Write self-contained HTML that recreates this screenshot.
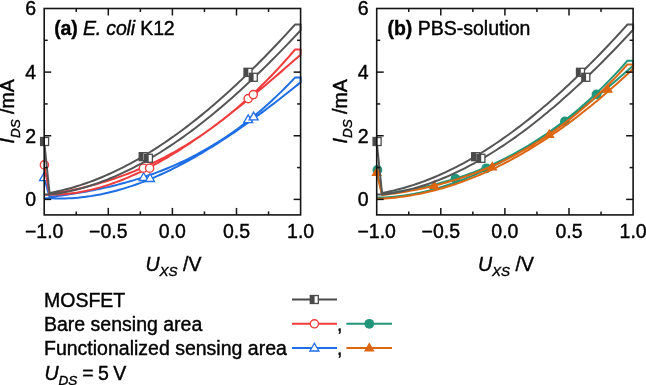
<!DOCTYPE html>
<html><head><meta charset="utf-8"><style>
html,body{margin:0;padding:0;background:#fff;overflow:hidden;}
svg{display:block;will-change:transform;}
.t{font-family:"Liberation Sans", sans-serif;font-size:19.5px;fill:#000;stroke:#000;stroke-width:0.4px;}
</style></head><body>
<svg width="646" height="385" viewBox="0 0 646 385">
<path d="M44.20,177.50 L49.50,197.05 L52.61,196.66 L55.72,196.26 L58.82,195.84 L61.93,195.41 L65.04,194.97 L68.15,194.51 L71.25,194.04 L74.36,193.55 L77.47,193.04 L80.58,192.52 L83.68,191.98 L86.79,191.42 L89.90,190.84 L93.01,190.24 L96.11,189.62 L99.22,188.98 L102.33,188.31 L105.44,187.63 L108.54,186.92 L111.65,186.19 L114.76,185.43 L117.87,184.65 L120.97,183.84 L124.08,183.01 L127.19,182.15 L130.30,181.26 L133.41,180.35 L136.51,179.40 L139.62,178.43 L142.73,177.42 L145.84,176.39 L148.94,175.32 L152.05,174.22 L155.16,173.09 L158.27,171.92 L161.37,170.72 L164.48,169.49 L167.59,168.21 L170.70,166.91 L173.80,165.57 L176.91,164.19 L180.02,162.77 L183.13,161.31 L186.23,159.81 L189.34,158.28 L192.45,156.70 L195.56,155.08 L198.66,153.42 L201.77,151.72 L204.88,149.97 L207.99,148.18 L211.09,146.35 L214.20,144.47 L217.31,142.54 L220.42,140.57 L223.53,138.55 L226.63,136.48 L229.74,134.37 L232.85,132.20 L235.96,129.99 L239.06,127.73 L242.17,125.41 L245.28,123.04 L248.39,120.62 L251.49,118.15 L254.60,115.62 L257.71,113.04 L260.82,110.41 L263.92,107.72 L267.03,104.97 L270.14,102.16 L273.25,99.30 L276.35,96.38 L279.46,93.40 L282.57,90.36 L285.68,87.26 L288.78,84.11 L291.89,80.88 L295.00,77.60 L300.60,77.60 L300.60,82.30 L297.42,84.87 L294.24,87.43 L291.06,89.97 L287.89,92.49 L284.71,95.01 L281.53,97.50 L278.35,99.98 L275.17,102.44 L271.99,104.88 L268.82,107.31 L265.64,109.71 L262.46,112.09 L259.28,114.46 L256.10,116.80 L252.92,119.12 L249.74,121.42 L246.57,123.70 L243.39,125.95 L240.21,128.18 L237.03,130.38 L233.85,132.56 L230.67,134.71 L227.49,136.84 L224.32,138.94 L221.14,141.01 L217.96,143.06 L214.78,145.07 L211.60,147.06 L208.42,149.02 L205.25,150.95 L202.07,152.85 L198.89,154.71 L195.71,156.55 L192.53,158.35 L189.35,160.12 L186.17,161.86 L183.00,163.56 L179.82,165.23 L176.64,166.87 L173.46,168.47 L170.28,170.03 L167.10,171.56 L163.93,173.05 L160.75,174.51 L157.57,175.93 L154.39,177.31 L151.21,178.65 L148.03,179.95 L144.85,181.21 L141.68,182.43 L138.50,183.61 L135.32,184.75 L132.14,185.85 L128.96,186.90 L125.78,187.92 L122.61,188.89 L119.43,189.82 L116.25,190.70 L113.07,191.54 L109.89,192.33 L106.71,193.08 L103.53,193.78 L100.36,194.44 L97.18,195.04 L94.00,195.60 L90.82,196.12 L87.64,196.58 L84.46,197.00 L81.28,197.36 L78.11,197.68 L74.93,197.95 L71.75,198.16 L68.57,198.33 L65.39,198.44 L62.21,198.50 L59.04,198.51 L55.86,198.46 L52.68,198.36 L49.50,198.21 L44.20,198.21" fill="none" stroke="#1e6ee6" stroke-width="2.0" stroke-linejoin="round"/><polygon points="44.00,172.82 39.50,180.62 48.50,180.62" fill="#fff" stroke="#1e6ee6" stroke-width="1.3"/><polygon points="143.60,172.72 139.10,180.52 148.10,180.52" fill="#fff" stroke="#1e6ee6" stroke-width="1.3"/><polygon points="150.00,173.72 145.50,181.52 154.50,181.52" fill="#fff" stroke="#1e6ee6" stroke-width="1.3"/><polygon points="248.20,114.82 243.70,122.62 252.70,122.62" fill="#fff" stroke="#1e6ee6" stroke-width="1.3"/><polygon points="253.60,112.12 249.10,119.92 258.10,119.92" fill="#fff" stroke="#1e6ee6" stroke-width="1.3"/>
<path d="M44.20,164.90 L49.50,194.14 L52.61,193.65 L55.72,193.14 L58.82,192.60 L61.93,192.04 L65.04,191.46 L68.15,190.85 L71.25,190.22 L74.36,189.56 L77.47,188.87 L80.58,188.16 L83.68,187.42 L86.79,186.65 L89.90,185.86 L93.01,185.03 L96.11,184.18 L99.22,183.30 L102.33,182.39 L105.44,181.45 L108.54,180.48 L111.65,179.48 L114.76,178.44 L117.87,177.38 L120.97,176.28 L124.08,175.15 L127.19,173.99 L130.30,172.79 L133.41,171.56 L136.51,170.30 L139.62,169.00 L142.73,167.67 L145.84,166.29 L148.94,164.89 L152.05,163.44 L155.16,161.96 L158.27,160.45 L161.37,158.89 L164.48,157.30 L167.59,155.66 L170.70,153.99 L173.80,152.28 L176.91,150.52 L180.02,148.73 L183.13,146.90 L186.23,145.02 L189.34,143.10 L192.45,141.14 L195.56,139.14 L198.66,137.09 L201.77,135.00 L204.88,132.87 L207.99,130.69 L211.09,128.46 L214.20,126.19 L217.31,123.87 L220.42,121.51 L223.53,119.10 L226.63,116.64 L229.74,114.14 L232.85,111.58 L235.96,108.98 L239.06,106.33 L242.17,103.63 L245.28,100.87 L248.39,98.07 L251.49,95.22 L254.60,92.31 L257.71,89.35 L260.82,86.34 L263.92,83.27 L267.03,80.16 L270.14,76.98 L273.25,73.76 L276.35,70.48 L279.46,67.14 L282.57,63.74 L285.68,60.29 L288.78,56.79 L291.89,53.22 L295.00,49.60 L300.60,49.60 L300.60,54.70 L297.42,57.50 L294.24,60.29 L291.06,63.07 L287.89,65.85 L284.71,68.61 L281.53,71.37 L278.35,74.12 L275.17,76.85 L271.99,79.58 L268.82,82.29 L265.64,84.98 L262.46,87.67 L259.28,90.33 L256.10,92.99 L252.92,95.62 L249.74,98.24 L246.57,100.83 L243.39,103.41 L240.21,105.97 L237.03,108.51 L233.85,111.03 L230.67,113.52 L227.49,115.99 L224.32,118.44 L221.14,120.87 L217.96,123.26 L214.78,125.64 L211.60,127.98 L208.42,130.30 L205.25,132.59 L202.07,134.85 L198.89,137.08 L195.71,139.28 L192.53,141.44 L189.35,143.58 L186.17,145.68 L183.00,147.75 L179.82,149.79 L176.64,151.79 L173.46,153.75 L170.28,155.68 L167.10,157.57 L163.93,159.42 L160.75,161.24 L157.57,163.01 L154.39,164.74 L151.21,166.44 L148.03,168.09 L144.85,169.70 L141.68,171.26 L138.50,172.78 L135.32,174.26 L132.14,175.69 L128.96,177.08 L125.78,178.42 L122.61,179.71 L119.43,180.95 L116.25,182.15 L113.07,183.29 L109.89,184.39 L106.71,185.43 L103.53,186.42 L100.36,187.36 L97.18,188.24 L94.00,189.08 L90.82,189.85 L87.64,190.57 L84.46,191.24 L81.28,191.85 L78.11,192.40 L74.93,192.89 L71.75,193.32 L68.57,193.69 L65.39,194.01 L62.21,194.26 L59.04,194.45 L55.86,194.57 L52.68,194.64 L49.50,194.63 L44.20,194.63" fill="none" stroke="#f03c3c" stroke-width="2.0" stroke-linejoin="round"/><circle cx="44.40" cy="164.90" r="4.1" fill="#fff" stroke="#f03c3c" stroke-width="1.4"/><circle cx="143.40" cy="168.20" r="4.1" fill="#fff" stroke="#f03c3c" stroke-width="1.4"/><circle cx="149.60" cy="168.20" r="4.1" fill="#fff" stroke="#f03c3c" stroke-width="1.4"/><circle cx="248.20" cy="98.60" r="4.1" fill="#fff" stroke="#f03c3c" stroke-width="1.4"/><circle cx="253.30" cy="94.60" r="4.1" fill="#fff" stroke="#f03c3c" stroke-width="1.4"/>
<path d="M44.20,141.50 L49.50,192.95 L52.61,192.37 L55.72,191.74 L58.82,191.07 L61.93,190.35 L65.04,189.59 L68.15,188.78 L71.25,187.93 L74.36,187.03 L77.47,186.08 L80.58,185.10 L83.68,184.07 L86.79,182.99 L89.90,181.88 L93.01,180.72 L96.11,179.52 L99.22,178.27 L102.33,176.98 L105.44,175.65 L108.54,174.28 L111.65,172.87 L114.76,171.41 L117.87,169.92 L120.97,168.38 L124.08,166.80 L127.19,165.19 L130.30,163.53 L133.41,161.83 L136.51,160.09 L139.62,158.32 L142.73,156.50 L145.84,154.64 L148.94,152.75 L152.05,150.82 L155.16,148.85 L158.27,146.84 L161.37,144.79 L164.48,142.71 L167.59,140.59 L170.70,138.43 L173.80,136.23 L176.91,134.00 L180.02,131.73 L183.13,129.43 L186.23,127.09 L189.34,124.71 L192.45,122.30 L195.56,119.85 L198.66,117.37 L201.77,114.86 L204.88,112.31 L207.99,109.72 L211.09,107.10 L214.20,104.45 L217.31,101.77 L220.42,99.05 L223.53,96.30 L226.63,93.52 L229.74,90.70 L232.85,87.85 L235.96,84.97 L239.06,82.06 L242.17,79.12 L245.28,76.15 L248.39,73.14 L251.49,70.11 L254.60,67.05 L257.71,63.95 L260.82,60.83 L263.92,57.68 L267.03,54.49 L270.14,51.28 L273.25,48.04 L276.35,44.78 L279.46,41.48 L282.57,38.16 L285.68,34.81 L288.78,31.43 L291.89,28.03 L295.00,24.60 L300.60,24.60 L300.60,30.40 L297.42,33.79 L294.24,37.16 L291.06,40.50 L287.89,43.82 L284.71,47.11 L281.53,50.38 L278.35,53.63 L275.17,56.85 L271.99,60.04 L268.82,63.20 L265.64,66.34 L262.46,69.45 L259.28,72.54 L256.10,75.59 L252.92,78.62 L249.74,81.61 L246.57,84.58 L243.39,87.52 L240.21,90.43 L237.03,93.30 L233.85,96.15 L230.67,98.96 L227.49,101.74 L224.32,104.49 L221.14,107.20 L217.96,109.88 L214.78,112.53 L211.60,115.15 L208.42,117.73 L205.25,120.27 L202.07,122.78 L198.89,125.26 L195.71,127.69 L192.53,130.10 L189.35,132.46 L186.17,134.79 L183.00,137.08 L179.82,139.33 L176.64,141.55 L173.46,143.72 L170.28,145.86 L167.10,147.95 L163.93,150.01 L160.75,152.03 L157.57,154.00 L154.39,155.94 L151.21,157.83 L148.03,159.69 L144.85,161.50 L141.68,163.27 L138.50,164.99 L135.32,166.67 L132.14,168.31 L128.96,169.91 L125.78,171.46 L122.61,172.97 L119.43,174.43 L116.25,175.85 L113.07,177.22 L109.89,178.54 L106.71,179.82 L103.53,181.05 L100.36,182.24 L97.18,183.37 L94.00,184.46 L90.82,185.50 L87.64,186.50 L84.46,187.44 L81.28,188.34 L78.11,189.18 L74.93,189.98 L71.75,190.72 L68.57,191.41 L65.39,192.06 L62.21,192.65 L59.04,193.19 L55.86,193.68 L52.68,194.11 L49.50,194.50 L44.20,194.50" fill="none" stroke="#555555" stroke-width="2.0" stroke-linejoin="round"/><rect x="40.60" y="137.50" width="8.0" height="8.0" fill="#fff" stroke="#4a4a4a" stroke-width="1.3"/><rect x="40.60" y="137.50" width="4.30" height="8.0" fill="#4a4a4a"/><rect x="139.20" y="152.70" width="8.0" height="8.0" fill="#fff" stroke="#4a4a4a" stroke-width="1.3"/><rect x="139.20" y="152.70" width="4.30" height="8.0" fill="#4a4a4a"/><rect x="144.40" y="154.30" width="8.0" height="8.0" fill="#fff" stroke="#4a4a4a" stroke-width="1.3"/><rect x="144.40" y="154.30" width="4.30" height="8.0" fill="#4a4a4a"/><rect x="244.00" y="68.30" width="8.0" height="8.0" fill="#fff" stroke="#4a4a4a" stroke-width="1.3"/><rect x="244.00" y="68.30" width="4.30" height="8.0" fill="#4a4a4a"/><rect x="249.30" y="73.30" width="8.0" height="8.0" fill="#fff" stroke="#4a4a4a" stroke-width="1.3"/><rect x="249.30" y="73.30" width="4.30" height="8.0" fill="#4a4a4a"/>
<rect x="44.2" y="8.5" width="256.40" height="206.40" fill="none" stroke="#151515" stroke-width="1.6"/>
<line x1="76.25" y1="214.9" x2="76.25" y2="211.4" stroke="#151515" stroke-width="1.5"/>
<line x1="76.25" y1="8.5" x2="76.25" y2="12.0" stroke="#151515" stroke-width="1.5"/>
<line x1="108.30" y1="214.9" x2="108.30" y2="207.9" stroke="#151515" stroke-width="1.5"/>
<line x1="108.30" y1="8.5" x2="108.30" y2="15.5" stroke="#151515" stroke-width="1.5"/>
<line x1="140.35" y1="214.9" x2="140.35" y2="211.4" stroke="#151515" stroke-width="1.5"/>
<line x1="140.35" y1="8.5" x2="140.35" y2="12.0" stroke="#151515" stroke-width="1.5"/>
<line x1="172.40" y1="214.9" x2="172.40" y2="207.9" stroke="#151515" stroke-width="1.5"/>
<line x1="172.40" y1="8.5" x2="172.40" y2="15.5" stroke="#151515" stroke-width="1.5"/>
<line x1="204.45" y1="214.9" x2="204.45" y2="211.4" stroke="#151515" stroke-width="1.5"/>
<line x1="204.45" y1="8.5" x2="204.45" y2="12.0" stroke="#151515" stroke-width="1.5"/>
<line x1="236.50" y1="214.9" x2="236.50" y2="207.9" stroke="#151515" stroke-width="1.5"/>
<line x1="236.50" y1="8.5" x2="236.50" y2="15.5" stroke="#151515" stroke-width="1.5"/>
<line x1="268.55" y1="214.9" x2="268.55" y2="211.4" stroke="#151515" stroke-width="1.5"/>
<line x1="268.55" y1="8.5" x2="268.55" y2="12.0" stroke="#151515" stroke-width="1.5"/>
<line x1="44.2" y1="199.40" x2="51.2" y2="199.40" stroke="#151515" stroke-width="1.5"/>
<line x1="300.6" y1="199.40" x2="293.6" y2="199.40" stroke="#151515" stroke-width="1.5"/>
<line x1="44.2" y1="167.58" x2="47.7" y2="167.58" stroke="#151515" stroke-width="1.5"/>
<line x1="300.6" y1="167.58" x2="297.1" y2="167.58" stroke="#151515" stroke-width="1.5"/>
<line x1="44.2" y1="135.76" x2="51.2" y2="135.76" stroke="#151515" stroke-width="1.5"/>
<line x1="300.6" y1="135.76" x2="293.6" y2="135.76" stroke="#151515" stroke-width="1.5"/>
<line x1="44.2" y1="103.94" x2="47.7" y2="103.94" stroke="#151515" stroke-width="1.5"/>
<line x1="300.6" y1="103.94" x2="297.1" y2="103.94" stroke="#151515" stroke-width="1.5"/>
<line x1="44.2" y1="72.12" x2="51.2" y2="72.12" stroke="#151515" stroke-width="1.5"/>
<line x1="300.6" y1="72.12" x2="293.6" y2="72.12" stroke="#151515" stroke-width="1.5"/>
<line x1="44.2" y1="40.30" x2="47.7" y2="40.30" stroke="#151515" stroke-width="1.5"/>
<line x1="300.6" y1="40.30" x2="297.1" y2="40.30" stroke="#151515" stroke-width="1.5"/>
<path d="M376.70,169.90 L382.00,193.82 L385.11,193.46 L388.22,193.08 L391.32,192.68 L394.43,192.25 L397.54,191.80 L400.65,191.33 L403.75,190.83 L406.86,190.31 L409.97,189.77 L413.08,189.19 L416.18,188.59 L419.29,187.97 L422.40,187.32 L425.51,186.64 L428.61,185.93 L431.72,185.19 L434.83,184.43 L437.94,183.63 L441.04,182.81 L444.15,181.95 L447.26,181.07 L450.37,180.15 L453.47,179.20 L456.58,178.22 L459.69,177.21 L462.80,176.16 L465.91,175.08 L469.01,173.97 L472.12,172.82 L475.23,171.64 L478.34,170.42 L481.44,169.17 L484.55,167.88 L487.66,166.55 L490.77,165.19 L493.87,163.79 L496.98,162.35 L500.09,160.87 L503.20,159.35 L506.30,157.80 L509.41,156.20 L512.52,154.56 L515.63,152.88 L518.73,151.16 L521.84,149.40 L524.95,147.60 L528.06,145.75 L531.16,143.86 L534.27,141.93 L537.38,139.95 L540.49,137.92 L543.59,135.85 L546.70,133.73 L549.81,131.57 L552.92,129.36 L556.03,127.10 L559.13,124.80 L562.24,122.44 L565.35,120.04 L568.46,117.59 L571.56,115.08 L574.67,112.53 L577.78,109.92 L580.89,107.26 L583.99,104.55 L587.10,101.78 L590.21,98.96 L593.32,96.09 L596.42,93.16 L599.53,90.18 L602.64,87.13 L605.75,84.04 L608.85,80.88 L611.96,77.67 L615.07,74.39 L618.18,71.06 L621.28,67.67 L624.39,64.22 L627.50,60.70 L633.10,60.70 L633.10,65.80 L629.92,68.58 L626.74,71.34 L623.56,74.10 L620.39,76.83 L617.21,79.55 L614.03,82.25 L610.85,84.94 L607.67,87.60 L604.49,90.25 L601.32,92.87 L598.14,95.48 L594.96,98.06 L591.78,100.62 L588.60,103.16 L585.42,105.67 L582.24,108.16 L579.07,110.63 L575.89,113.07 L572.71,115.48 L569.53,117.87 L566.35,120.23 L563.17,122.57 L559.99,124.87 L556.82,127.15 L553.64,129.40 L550.46,131.62 L547.28,133.81 L544.10,135.97 L540.92,138.10 L537.75,140.20 L534.57,142.26 L531.39,144.30 L528.21,146.30 L525.03,148.27 L521.85,150.20 L518.67,152.10 L515.50,153.97 L512.32,155.81 L509.14,157.61 L505.96,159.37 L502.78,161.10 L499.60,162.79 L496.43,164.45 L493.25,166.07 L490.07,167.65 L486.89,169.20 L483.71,170.71 L480.53,172.18 L477.35,173.62 L474.18,175.01 L471.00,176.37 L467.82,177.69 L464.64,178.97 L461.46,180.21 L458.28,181.41 L455.11,182.57 L451.93,183.69 L448.75,184.77 L445.57,185.81 L442.39,186.81 L439.21,187.77 L436.03,188.68 L432.86,189.56 L429.68,190.39 L426.50,191.18 L423.32,191.93 L420.14,192.63 L416.96,193.29 L413.78,193.91 L410.61,194.48 L407.43,195.01 L404.25,195.49 L401.07,195.93 L397.89,196.33 L394.71,196.68 L391.54,196.98 L388.36,197.24 L385.18,197.46 L382.00,197.62 L376.70,197.62" fill="none" stroke="#21967a" stroke-width="2.0" stroke-linejoin="round"/><circle cx="377.40" cy="169.90" r="4.90" fill="#21967a"/><circle cx="455.40" cy="178.70" r="4.90" fill="#21967a"/><circle cx="486.30" cy="168.30" r="4.90" fill="#21967a"/><circle cx="564.90" cy="121.40" r="4.90" fill="#21967a"/><circle cx="596.50" cy="94.40" r="4.90" fill="#21967a"/>
<path d="M376.70,172.50 L382.00,195.06 L385.11,194.68 L388.22,194.28 L391.32,193.87 L394.43,193.43 L397.54,192.97 L400.65,192.48 L403.75,191.98 L406.86,191.45 L409.97,190.89 L413.08,190.32 L416.18,189.71 L419.29,189.09 L422.40,188.43 L425.51,187.75 L428.61,187.05 L431.72,186.32 L434.83,185.56 L437.94,184.77 L441.04,183.95 L444.15,183.11 L447.26,182.23 L450.37,181.33 L453.47,180.39 L456.58,179.43 L459.69,178.43 L462.80,177.40 L465.91,176.34 L469.01,175.25 L472.12,174.12 L475.23,172.96 L478.34,171.77 L481.44,170.54 L484.55,169.28 L487.66,167.98 L490.77,166.65 L493.87,165.28 L496.98,163.87 L500.09,162.43 L503.20,160.94 L506.30,159.42 L509.41,157.86 L512.52,156.26 L515.63,154.63 L518.73,152.95 L521.84,151.23 L524.95,149.46 L528.06,147.66 L531.16,145.81 L534.27,143.93 L537.38,141.99 L540.49,140.02 L543.59,138.00 L546.70,135.93 L549.81,133.82 L552.92,131.66 L556.03,129.45 L559.13,127.20 L562.24,124.90 L565.35,122.55 L568.46,120.15 L571.56,117.71 L574.67,115.21 L577.78,112.66 L580.89,110.06 L583.99,107.40 L587.10,104.70 L590.21,101.94 L593.32,99.12 L596.42,96.26 L599.53,93.33 L602.64,90.35 L605.75,87.31 L608.85,84.22 L611.96,81.07 L615.07,77.85 L618.18,74.58 L621.28,71.25 L624.39,67.86 L627.50,64.40 L633.10,64.40 L633.10,68.80 L629.92,71.79 L626.74,74.75 L623.56,77.67 L620.39,80.57 L617.21,83.43 L614.03,86.26 L610.85,89.06 L607.67,91.83 L604.49,94.56 L601.32,97.27 L598.14,99.93 L594.96,102.57 L591.78,105.17 L588.60,107.74 L585.42,110.28 L582.24,112.78 L579.07,115.25 L575.89,117.69 L572.71,120.09 L569.53,122.45 L566.35,124.79 L563.17,127.09 L559.99,129.35 L556.82,131.58 L553.64,133.78 L550.46,135.94 L547.28,138.06 L544.10,140.16 L540.92,142.21 L537.75,144.23 L534.57,146.22 L531.39,148.17 L528.21,150.09 L525.03,151.97 L521.85,153.81 L518.67,155.62 L515.50,157.39 L512.32,159.13 L509.14,160.83 L505.96,162.50 L502.78,164.13 L499.60,165.72 L496.43,167.28 L493.25,168.80 L490.07,170.29 L486.89,171.74 L483.71,173.15 L480.53,174.53 L477.35,175.87 L474.18,177.17 L471.00,178.44 L467.82,179.67 L464.64,180.86 L461.46,182.01 L458.28,183.13 L455.11,184.21 L451.93,185.26 L448.75,186.27 L445.57,187.24 L442.39,188.17 L439.21,189.06 L436.03,189.92 L432.86,190.74 L429.68,191.53 L426.50,192.27 L423.32,192.98 L420.14,193.65 L416.96,194.28 L413.78,194.88 L410.61,195.43 L407.43,195.95 L404.25,196.43 L401.07,196.87 L397.89,197.28 L394.71,197.64 L391.54,197.97 L388.36,198.26 L385.18,198.51 L382.00,198.73 L376.70,198.73" fill="none" stroke="#dd6611" stroke-width="2.0" stroke-linejoin="round"/><polygon points="376.70,168.03 372.40,175.48 381.00,175.48" fill="#dd6611" stroke="#dd6611" stroke-width="1.2" stroke-linejoin="miter"/><polygon points="434.10,181.03 429.80,188.48 438.40,188.48" fill="#dd6611" stroke="#dd6611" stroke-width="1.2" stroke-linejoin="miter"/><polygon points="492.20,162.53 487.90,169.98 496.50,169.98" fill="#dd6611" stroke="#dd6611" stroke-width="1.2" stroke-linejoin="miter"/><polygon points="549.30,129.93 545.00,137.38 553.60,137.38" fill="#dd6611" stroke="#dd6611" stroke-width="1.2" stroke-linejoin="miter"/><polygon points="607.60,84.73 603.30,92.18 611.90,92.18" fill="#dd6611" stroke="#dd6611" stroke-width="1.2" stroke-linejoin="miter"/>
<path d="M376.70,141.50 L382.00,192.95 L385.11,192.37 L388.22,191.74 L391.32,191.07 L394.43,190.35 L397.54,189.59 L400.65,188.78 L403.75,187.93 L406.86,187.03 L409.97,186.08 L413.08,185.10 L416.18,184.07 L419.29,182.99 L422.40,181.88 L425.51,180.72 L428.61,179.52 L431.72,178.27 L434.83,176.98 L437.94,175.65 L441.04,174.28 L444.15,172.87 L447.26,171.41 L450.37,169.92 L453.47,168.38 L456.58,166.80 L459.69,165.19 L462.80,163.53 L465.91,161.83 L469.01,160.09 L472.12,158.32 L475.23,156.50 L478.34,154.64 L481.44,152.75 L484.55,150.82 L487.66,148.85 L490.77,146.84 L493.87,144.79 L496.98,142.71 L500.09,140.58 L503.20,138.43 L506.30,136.23 L509.41,134.00 L512.52,131.73 L515.63,129.42 L518.73,127.08 L521.84,124.71 L524.95,122.29 L528.06,119.85 L531.16,117.37 L534.27,114.85 L537.38,112.30 L540.49,109.71 L543.59,107.10 L546.70,104.44 L549.81,101.76 L552.92,99.04 L556.03,96.29 L559.13,93.50 L562.24,90.68 L565.35,87.83 L568.46,84.95 L571.56,82.04 L574.67,79.10 L577.78,76.12 L580.89,73.12 L583.99,70.08 L587.10,67.01 L590.21,63.91 L593.32,60.79 L596.42,57.63 L599.53,54.45 L602.64,51.23 L605.75,47.99 L608.85,44.71 L611.96,41.41 L615.07,38.09 L618.18,34.73 L621.28,31.35 L624.39,27.94 L627.50,24.50 L633.10,24.50 L633.10,29.80 L629.92,33.23 L626.74,36.64 L623.56,40.02 L620.39,43.38 L617.21,46.71 L614.03,50.01 L610.85,53.28 L607.67,56.53 L604.49,59.75 L601.32,62.94 L598.14,66.10 L594.96,69.23 L591.78,72.33 L588.60,75.41 L585.42,78.45 L582.24,81.46 L579.07,84.44 L575.89,87.39 L572.71,90.31 L569.53,93.20 L566.35,96.05 L563.17,98.87 L559.99,101.66 L556.82,104.42 L553.64,107.14 L550.46,109.83 L547.28,112.48 L544.10,115.10 L540.92,117.69 L537.75,120.24 L534.57,122.75 L531.39,125.23 L528.21,127.67 L525.03,130.08 L521.85,132.44 L518.67,134.77 L515.50,137.07 L512.32,139.32 L509.14,141.54 L505.96,143.71 L502.78,145.85 L499.60,147.95 L496.43,150.01 L493.25,152.02 L490.07,154.00 L486.89,155.94 L483.71,157.83 L480.53,159.69 L477.35,161.50 L474.18,163.27 L471.00,164.99 L467.82,166.67 L464.64,168.31 L461.46,169.91 L458.28,171.46 L455.11,172.97 L451.93,174.43 L448.75,175.85 L445.57,177.22 L442.39,178.54 L439.21,179.82 L436.03,181.05 L432.86,182.24 L429.68,183.37 L426.50,184.46 L423.32,185.50 L420.14,186.50 L416.96,187.44 L413.78,188.34 L410.61,189.18 L407.43,189.98 L404.25,190.72 L401.07,191.41 L397.89,192.06 L394.71,192.65 L391.54,193.19 L388.36,193.68 L385.18,194.11 L382.00,194.50 L376.70,194.50" fill="none" stroke="#555555" stroke-width="2.0" stroke-linejoin="round"/><rect x="373.10" y="137.50" width="8.0" height="8.0" fill="#fff" stroke="#4a4a4a" stroke-width="1.3"/><rect x="373.10" y="137.50" width="4.30" height="8.0" fill="#4a4a4a"/><rect x="471.70" y="152.70" width="8.0" height="8.0" fill="#fff" stroke="#4a4a4a" stroke-width="1.3"/><rect x="471.70" y="152.70" width="4.30" height="8.0" fill="#4a4a4a"/><rect x="476.90" y="154.30" width="8.0" height="8.0" fill="#fff" stroke="#4a4a4a" stroke-width="1.3"/><rect x="476.90" y="154.30" width="4.30" height="8.0" fill="#4a4a4a"/><rect x="576.50" y="68.30" width="8.0" height="8.0" fill="#fff" stroke="#4a4a4a" stroke-width="1.3"/><rect x="576.50" y="68.30" width="4.30" height="8.0" fill="#4a4a4a"/><rect x="581.80" y="73.30" width="8.0" height="8.0" fill="#fff" stroke="#4a4a4a" stroke-width="1.3"/><rect x="581.80" y="73.30" width="4.30" height="8.0" fill="#4a4a4a"/>
<rect x="376.7" y="8.5" width="256.40" height="206.40" fill="none" stroke="#151515" stroke-width="1.6"/>
<line x1="408.75" y1="214.9" x2="408.75" y2="211.4" stroke="#151515" stroke-width="1.5"/>
<line x1="408.75" y1="8.5" x2="408.75" y2="12.0" stroke="#151515" stroke-width="1.5"/>
<line x1="440.80" y1="214.9" x2="440.80" y2="207.9" stroke="#151515" stroke-width="1.5"/>
<line x1="440.80" y1="8.5" x2="440.80" y2="15.5" stroke="#151515" stroke-width="1.5"/>
<line x1="472.85" y1="214.9" x2="472.85" y2="211.4" stroke="#151515" stroke-width="1.5"/>
<line x1="472.85" y1="8.5" x2="472.85" y2="12.0" stroke="#151515" stroke-width="1.5"/>
<line x1="504.90" y1="214.9" x2="504.90" y2="207.9" stroke="#151515" stroke-width="1.5"/>
<line x1="504.90" y1="8.5" x2="504.90" y2="15.5" stroke="#151515" stroke-width="1.5"/>
<line x1="536.95" y1="214.9" x2="536.95" y2="211.4" stroke="#151515" stroke-width="1.5"/>
<line x1="536.95" y1="8.5" x2="536.95" y2="12.0" stroke="#151515" stroke-width="1.5"/>
<line x1="569.00" y1="214.9" x2="569.00" y2="207.9" stroke="#151515" stroke-width="1.5"/>
<line x1="569.00" y1="8.5" x2="569.00" y2="15.5" stroke="#151515" stroke-width="1.5"/>
<line x1="601.05" y1="214.9" x2="601.05" y2="211.4" stroke="#151515" stroke-width="1.5"/>
<line x1="601.05" y1="8.5" x2="601.05" y2="12.0" stroke="#151515" stroke-width="1.5"/>
<line x1="376.7" y1="199.40" x2="383.7" y2="199.40" stroke="#151515" stroke-width="1.5"/>
<line x1="633.1" y1="199.40" x2="626.1" y2="199.40" stroke="#151515" stroke-width="1.5"/>
<line x1="376.7" y1="167.58" x2="380.2" y2="167.58" stroke="#151515" stroke-width="1.5"/>
<line x1="633.1" y1="167.58" x2="629.6" y2="167.58" stroke="#151515" stroke-width="1.5"/>
<line x1="376.7" y1="135.76" x2="383.7" y2="135.76" stroke="#151515" stroke-width="1.5"/>
<line x1="633.1" y1="135.76" x2="626.1" y2="135.76" stroke="#151515" stroke-width="1.5"/>
<line x1="376.7" y1="103.94" x2="380.2" y2="103.94" stroke="#151515" stroke-width="1.5"/>
<line x1="633.1" y1="103.94" x2="629.6" y2="103.94" stroke="#151515" stroke-width="1.5"/>
<line x1="376.7" y1="72.12" x2="383.7" y2="72.12" stroke="#151515" stroke-width="1.5"/>
<line x1="633.1" y1="72.12" x2="626.1" y2="72.12" stroke="#151515" stroke-width="1.5"/>
<line x1="376.7" y1="40.30" x2="380.2" y2="40.30" stroke="#151515" stroke-width="1.5"/>
<line x1="633.1" y1="40.30" x2="629.6" y2="40.30" stroke="#151515" stroke-width="1.5"/>
<text x="44.20" y="238" text-anchor="middle" class="t">−1.0</text>
<text x="108.30" y="238" text-anchor="middle" class="t">−0.5</text>
<text x="172.40" y="238" text-anchor="middle" class="t">0.0</text>
<text x="236.50" y="238" text-anchor="middle" class="t">0.5</text>
<text x="300.60" y="238" text-anchor="middle" class="t">1.0</text>
<text x="36.20" y="206.20" text-anchor="end" class="t">0</text>
<text x="36.20" y="142.56" text-anchor="end" class="t">2</text>
<text x="36.20" y="78.92" text-anchor="end" class="t">4</text>
<text x="36.20" y="15.28" text-anchor="end" class="t">6</text>
<text transform="translate(14,143.5) rotate(-90)" class="t"><tspan font-style="italic">I</tspan><tspan font-size="13.5" font-style="italic" dy="5.5">DS</tspan><tspan dy="-5.5"> /mA</tspan></text>
<text x="145.5" y="270.5" class="t"><tspan font-style="italic">U</tspan><tspan font-size="13.5" font-style="italic" dy="5">XS</tspan><tspan dy="-5"> /V</tspan></text>
<text x="376.70" y="238" text-anchor="middle" class="t">−1.0</text>
<text x="440.80" y="238" text-anchor="middle" class="t">−0.5</text>
<text x="504.90" y="238" text-anchor="middle" class="t">0.0</text>
<text x="569.00" y="238" text-anchor="middle" class="t">0.5</text>
<text x="633.10" y="238" text-anchor="middle" class="t">1.0</text>
<text x="368.70" y="206.20" text-anchor="end" class="t">0</text>
<text x="368.70" y="142.56" text-anchor="end" class="t">2</text>
<text x="368.70" y="78.92" text-anchor="end" class="t">4</text>
<text x="368.70" y="15.28" text-anchor="end" class="t">6</text>
<text transform="translate(346.5,143.5) rotate(-90)" class="t"><tspan font-style="italic">I</tspan><tspan font-size="13.5" font-style="italic" dy="5.5">DS</tspan><tspan dy="-5.5"> /mA</tspan></text>
<text x="478.0" y="270.5" class="t"><tspan font-style="italic">U</tspan><tspan font-size="13.5" font-style="italic" dy="5">XS</tspan><tspan dy="-5"> /V</tspan></text>
<text x="54.2" y="35.2" class="t" textLength="120.5" lengthAdjust="spacing"><tspan font-weight="bold">(a)</tspan> <tspan font-style="italic">E. coli</tspan> K12</text>
<text x="387.4" y="35.2" class="t"><tspan font-weight="bold">(b)</tspan> PBS-solution</text>
<text x="44" y="306.9" class="t">MOSFET</text>
<text x="44" y="331.1" class="t">Bare sensing area</text>
<text x="44" y="355.3" class="t">Functionalized sensing area</text>
<text x="44.5" y="379.6" class="t"><tspan font-style="italic">U</tspan><tspan font-size="13.5" font-style="italic" dy="5">DS</tspan><tspan dy="-5" letter-spacing="-0.5"> = 5 V</tspan></text>
<line x1="292" y1="299.5" x2="337" y2="299.5" stroke="#4a4a4a" stroke-width="2"/>
<rect x="310.30" y="295.50" width="8.0" height="8.0" fill="#fff" stroke="#4a4a4a" stroke-width="1.3"/><rect x="310.30" y="295.50" width="4.30" height="8.0" fill="#4a4a4a"/>
<line x1="292" y1="323.8" x2="337" y2="323.8" stroke="#f03c3c" stroke-width="2"/>
<circle cx="314.40" cy="323.80" r="4.1" fill="#fff" stroke="#f03c3c" stroke-width="1.4"/>
<line x1="346.4" y1="323.8" x2="392" y2="323.8" stroke="#21967a" stroke-width="2"/>
<circle cx="369.30" cy="323.80" r="4.90" fill="#21967a"/>
<line x1="292" y1="347.9" x2="337" y2="347.9" stroke="#1e6ee6" stroke-width="2"/>
<polygon points="314.40,343.22 309.90,351.02 318.90,351.02" fill="#fff" stroke="#1e6ee6" stroke-width="1.3"/>
<line x1="346.4" y1="347.9" x2="392" y2="347.9" stroke="#dd6611" stroke-width="2"/>
<polygon points="369.30,343.43 365.00,350.88 373.60,350.88" fill="#dd6611" stroke="#dd6611" stroke-width="1.2" stroke-linejoin="miter"/>
<text x="337" y="331.1" class="t">,</text>
<text x="337" y="355.3" class="t">,</text>
</svg>
</body></html>
